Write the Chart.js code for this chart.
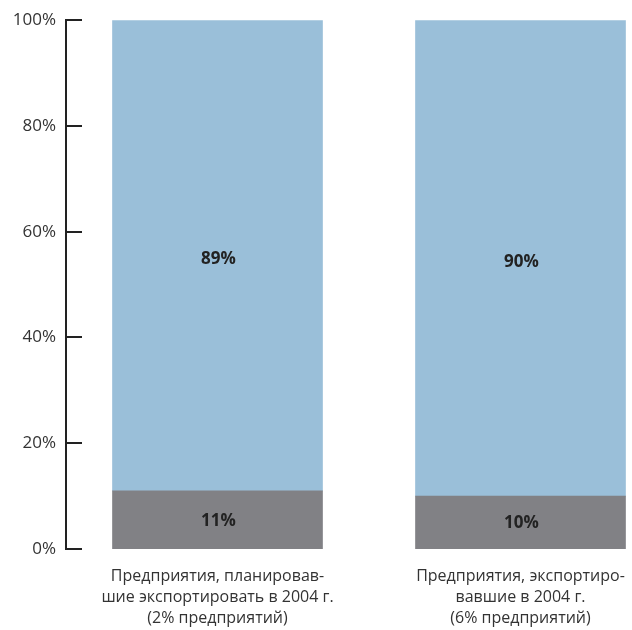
<!DOCTYPE html>
<html>
<head>
<meta charset="utf-8">
<script src="https://cdn.jsdelivr.net/npm/chart.js@4/dist/chart.umd.min.js"></script>
<style>
html,body{margin:0;padding:0;overflow:hidden;background:#fff;}
#wrap{width:673px;height:630px;position:relative;}
</style>
</head>
<body>
<div id="wrap"><canvas id="c"></canvas></div>
<script>
const categories = [
  ["Предприятия, планировав-", "шие экспортировать в 2004 г.", "(2% предприятий)"],
  ["Предприятия, экспортиро-", "вавшие в 2004 г.", "(6% предприятий)"]
];
const bottomValues = [11, 10];
const topValues = [89, 90];
const yTicks = [0, 20, 40, 60, 80, 100];

const inwardTicks = {
  id: 'inwardTicks',
  afterDraw(chart) {
    const y = chart.scales.y;
    const ctx = chart.ctx;
    const x0 = y.right;
    ctx.save();
    ctx.strokeStyle = '#222';
    ctx.lineWidth = 2;
    yTicks.forEach(v => {
      const py = Math.round(y.getPixelForValue(v));
      ctx.beginPath();
      ctx.moveTo(x0 - 1, py);
      ctx.lineTo(x0 + 16, py);
      ctx.stroke();
    });
    ctx.restore();
  }
};

const barLabels = {
  id: 'barLabels',
  afterDatasetsDraw(chart) {
    const ctx = chart.ctx;
    ctx.save();
    ctx.font = 'bold 17px "Open Sans", sans-serif';
    ctx.fillStyle = '#222';
    ctx.textAlign = 'center';
    ctx.textBaseline = 'middle';
    chart.data.datasets.forEach((ds, di) => {
      const meta = chart.getDatasetMeta(di);
      meta.data.forEach((el, i) => {
        const cy = (el.y + el.base) / 2;
        ctx.fillText(ds.data[i] + '%', el.x + 1, cy + (di === 1 ? 4 : 1));
      });
    });
    ctx.restore();
  }
};

new Chart(document.getElementById('c'), {
  type: 'bar',
  data: {
    labels: categories,
    datasets: [
      { data: bottomValues, backgroundColor: '#818185', barThickness: 210 },
      { data: topValues, backgroundColor: '#9abfd9', barThickness: 210 }
    ]
  },
  options: {
    responsive: true,
    maintainAspectRatio: false,
    animation: false,
    layout: { padding: { top: 18, right: 1, left: 0, bottom: 0 } },
    plugins: { legend: { display: false }, tooltip: { enabled: false } },
    scales: {
      x: {
        stacked: true,
        offset: true,
        grid: { display: false, drawTicks: false },
        border: { display: false },
        ticks: {
          color: '#333',
          font: { family: '"Open Sans", sans-serif', size: 16, lineHeight: 1.3 },
          padding: 17,
          maxRotation: 0,
          autoSkip: false
        },
        afterFit(s) { s.height = 81; }
      },
      y: {
        stacked: true,
        min: 0,
        max: 100,
        afterBuildTicks(s) { s.ticks = yTicks.map(v => ({ value: v })); },
        grid: { display: false, drawTicks: false },
        border: { display: true, color: '#222', width: 2 },
        ticks: {
          color: '#333',
          font: { family: '"Open Sans", sans-serif', size: 17, weight: 400 },
          padding: 10,
          callback: v => v + '%'
        },
        afterFit(s) { s.width = 66; }
      }
    }
  },
  plugins: [inwardTicks, barLabels]
});
</script>
</body>
</html>
